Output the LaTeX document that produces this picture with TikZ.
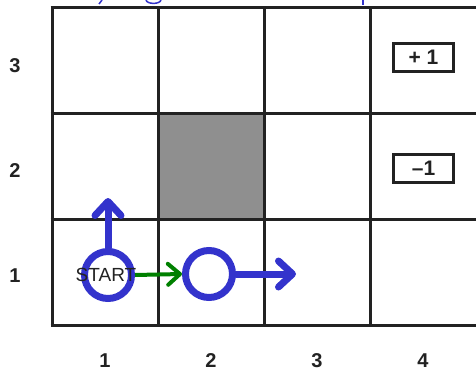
\documentclass[tikz,border=0pt]{standalone}
\usepackage{fontspec}
\setmainfont{Liberation Sans}
\usetikzlibrary{arrows.meta}
\definecolor{gridc}{HTML}{222222}
\definecolor{agent}{HTML}{3333CC}
\definecolor{wall}{HTML}{8F8F8F}
\definecolor{mv}{HTML}{008000}
\begin{document}
\begin{tikzpicture}[x=1pt,y=-1pt,
  gridline/.style={draw=gridc,line width=3pt},
  lbl/.style={font=\fontsize{20}{20}\selectfont\bfseries,text=gridc,inner sep=0},
  reward/.style={draw=gridc,line width=3pt,minimum width=60pt,minimum height=28pt,inner sep=0,font=\fontsize{21}{21}\selectfont\bfseries,text=gridc},
  agentpos/.style={circle,draw=agent,line width=7pt,minimum size=47pt,inner sep=0},
  move/.style={draw=agent,line width=7pt,line cap=round,-{Straight Barb[round,length=14pt,width=26pt]}},
  tried/.style={draw=mv,line width=4pt,-{Straight Barb[round,length=12pt,width=21pt]}},
  frag/.style={draw=agent,line width=1.5pt}]
\useasboundingbox (0,0) rectangle (476,372);
\clip (0,0) rectangle (476,372);
% title fragments (clipped)
\draw[frag] (99,4) -- (102,0);
\draw[frag] (146,0) .. controls (147,4.5) and (160,4.5) .. (161,0);
\draw[frag] (363,0) -- (363,5);
% wall cell
\fill[wall] (158,113) rectangle (264,219);
% grid
\foreach \x in {52,158,264,370,478} \draw[gridline] (\x,7) -- (\x,325);
\foreach \y in {7,113,219,325} \draw[gridline] (50.5,\y) -- (480,\y);
% axis labels
\node[lbl] (r3) at (15,66) {3};
\node[lbl] (r2) at (15,171) {2};
\node[lbl] (r1) at (15,276) {1};
\node[lbl] (k1) at (105,361) {1};
\node[lbl] (k2) at (211,361) {2};
\node[lbl] (k3) at (317,361) {3};
\node[lbl] (k4) at (423,361) {4};
% rewards
\node[reward] (plus) at (423.5,57.5) {+ 1};
\node[reward] (minus) at (423.5,168.5) {–1};
% agent
\node[agentpos] (c1) at (108,275) {};
\node[agentpos] (c2) at (209,274) {};
\node[font=\fontsize{19}{19}\selectfont,text=gridc,inner sep=0] (start) at (106,275) {START};
\coordinate (up) at (108,198);
\coordinate (right) at (296,274);
\draw[move] (c1.north) -- (up);
\draw[move] (c2.east) -- (right);
\draw[tried] (c1.east) -- (c2.west);
\end{tikzpicture}
\end{document}
